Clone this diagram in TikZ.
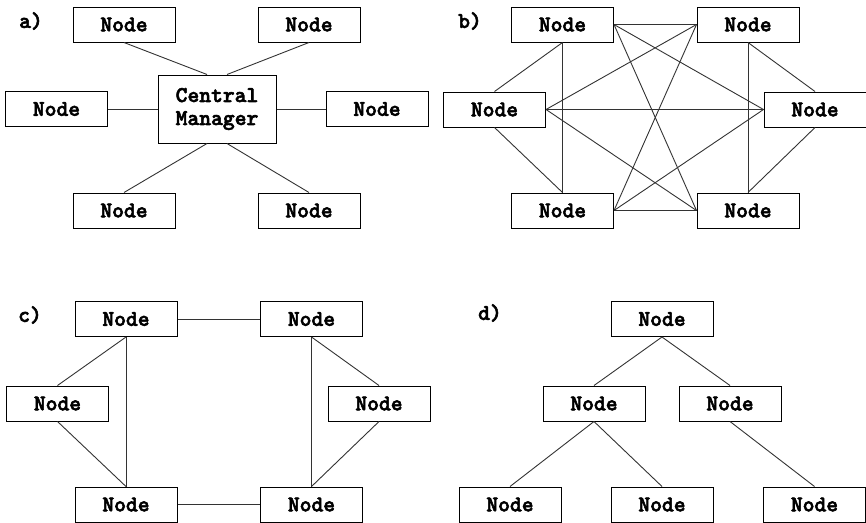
\documentclass[tikz,border=0pt]{standalone}
\usepackage{fontspec}
\newfontfamily\nodefont{lmmonolt10-bold.otf}[FakeBold=2.5]
\begin{document}
\begin{tikzpicture}[x=1pt,y=-1pt,
  box/.style={draw=black,line width=1pt,fill=white,inner sep=0pt,
    minimum width=102pt,minimum height=35pt,
    font=\nodefont\fontsize{22.5}{23}\selectfont},
  tag/.style={inner sep=0pt,font=\nodefont\fontsize{22.5}{23}\selectfont},
  link/.style={draw=black!80,line width=0.9pt}]
\useasboundingbox (0,0) rectangle (866,522);

% ---------- a) star ----------
\node[tag] (la) at (31,21) {a)};
\node[box] (a1) at (124,24.5) {Node};
\node[box] (a2) at (309,24.5) {Node};
\node[box,minimum width=118pt,minimum height=68pt,align=center] (ac) at (217,109) {Central\\Manager};
\node[box] (al) at (56.5,109) {Node};
\node[box] (ar) at (377,109) {Node};
\node[box] (a3) at (124,210.5) {Node};
\node[box] (a4) at (309,210.5) {Node};
\draw[link] (a1.south) -- ([xshift=-10pt]ac.north);
\draw[link] (a2.south) -- ([xshift=10pt]ac.north);
\draw[link] (a3.north) -- ([xshift=-10pt]ac.south);
\draw[link] (a4.north) -- ([xshift=10pt]ac.south);
\draw[link] (al.east) -- (ac.west);
\draw[link] (ar.west) -- (ac.east);

% ---------- b) fully connected ----------
\node[tag] (lb) at (470,21) {b)};
\node[box] (b1) at (562.5,24.5) {Node};
\node[box] (b2) at (748,24.5) {Node};
\node[box] (bl) at (494.5,109.5) {Node};
\node[box] (br) at (815,109.5) {Node};
\node[box] (b3) at (562.5,210.5) {Node};
\node[box] (b4) at (748,210.5) {Node};
\draw[link] (b1.south) -- (b3.north);
\draw[link] (b2.south) -- (b4.north);
\draw[link] (b1.south) -- (bl.north);
\draw[link] (bl.south) -- (b3.north);
\draw[link] (b2.south) -- (br.north);
\draw[link] (br.south) -- (b4.north);
\draw[link] (b1.east) -- (b2.west);
\draw[link] (b3.east) -- (b4.west);
\draw[link] (bl.east) -- (br.west);
\draw[link] (b1.east) -- (b4.west);
\draw[link] (b1.east) -- (br.west);
\draw[link] (b2.west) -- (bl.east);
\draw[link] (b2.west) -- (b3.east);
\draw[link] (bl.east) -- (b4.west);
\draw[link] (b3.east) -- (br.west);

% ---------- c) ring with chords ----------
\node[tag] (lc) at (30,315) {c)};
\node[box] (c1) at (126,319) {Node};
\node[box] (c2) at (311.5,319) {Node};
\node[box] (cl) at (57.5,403.5) {Node};
\node[box] (cr) at (379,403.5) {Node};
\node[box] (c3) at (126,504.5) {Node};
\node[box] (c4) at (311.5,504.5) {Node};
\draw[link] (c1.east) -- (c2.west);
\draw[link] (c3.east) -- (c4.west);
\draw[link] (c1.south) -- (c3.north);
\draw[link] (c2.south) -- (c4.north);
\draw[link] (c1.south) -- (cl.north);
\draw[link] (cl.south) -- (c3.north);
\draw[link] (c2.south) -- (cr.north);
\draw[link] (cr.south) -- (c4.north);

% ---------- d) tree ----------
\node[tag] (ld) at (490,313) {d)};
\node[box] (d0) at (662,319) {Node};
\node[box] (d1) at (594,403.5) {Node};
\node[box] (d2) at (730,403.5) {Node};
\node[box] (d3) at (510,504.5) {Node};
\node[box] (d4) at (662,504.5) {Node};
\node[box] (d5) at (814.5,504.5) {Node};
\draw[link] (d0.south) -- (d1.north);
\draw[link] (d0.south) -- (d2.north);
\draw[link] (d1.south) -- (d3.north);
\draw[link] (d1.south) -- (d4.north);
\draw[link] (d2.south) -- (d5.north);
\end{tikzpicture}
\end{document}
